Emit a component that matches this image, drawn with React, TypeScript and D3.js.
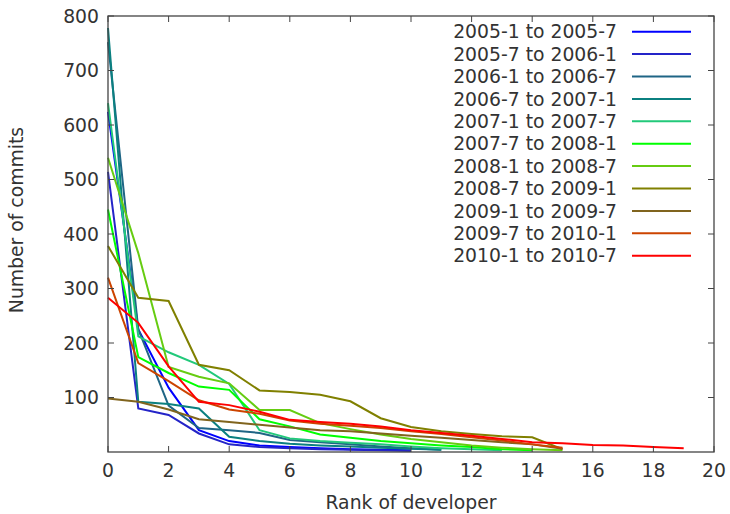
import React from "react";
import * as d3 from "d3";

const seriesNames = [
  "2005-1 to 2005-7",
  "2005-7 to 2006-1",
  "2006-1 to 2006-7",
  "2006-7 to 2007-1",
  "2007-1 to 2007-7",
  "2007-7 to 2008-1",
  "2008-1 to 2008-7",
  "2008-7 to 2009-1",
  "2009-1 to 2009-7",
  "2009-7 to 2010-1",
  "2010-1 to 2010-7",
];

const s2005a = [624, 225, 118, 40, 20, 12, 9, 7, 5, 4, 3];
const s2005b = [514, 80, 68, 34, 14, 9, 7, 5, 4, 3, 2];
const s2006a = [752, 225, 85, 44, 40, 35, 22, 18, 14, 10, 7, 4];
const s2006b = [778, 92, 88, 80, 28, 20, 15, 12, 10, 8, 6, 4];
const s2007a = [640, 212, 183, 160, 125, 40, 25, 20, 17, 14, 10, 7, 5, 3];
const s2007b = [445, 174, 145, 120, 114, 60, 47, 32, 26, 20, 16, 12, 9, 5, 3];
const s2008a = [540, 365, 156, 138, 126, 77, 77, 53, 42, 32, 24, 18, 12, 8, 5, 3];
const s2008b = [378, 283, 277, 160, 150, 113, 110, 105, 93, 62, 46, 38, 33, 29, 27, 5];
const s2009a = [98, 92, 78, 60, 55, 50, 45, 40, 38, 34, 30, 26, 22, 18, 14, 6];
const s2009b = [320, 163, 130, 95, 78, 70, 58, 52, 48, 44, 38, 33, 27, 21, 14, 8];
const s2010a = [283, 237, 157, 92, 86, 74, 59, 55, 52, 47, 40, 35, 30, 24, 18, 16, 13, 12, 9, 7];

const seriesValues = [s2005a, s2005b, s2006a, s2006b, s2007a, s2007b, s2008a, s2008b, s2009a, s2009b, s2010a];

const seriesColors = [
  "#0000ff",
  "#2424c8",
  "#1f6585",
  "#0b8080",
  "#22c97a",
  "#00ff00",
  "#66cc11",
  "#808000",
  "#80641e",
  "#cc4400",
  "#ff0000",
];

const xTicks = [0, 2, 4, 6, 8, 10, 12, 14, 16, 18, 20];
const yTicks = [100, 200, 300, 400, 500, 600, 700, 800];

const W = 730;
const H = 514;
const M = { left: 108, right: 714, top: 16, bottom: 452 };
const FONT = "'DejaVu Sans', sans-serif";
const FS = 18.8;
const TXT = "#333333";
const FRAME = "#444444";
const TICK = 6;

export default function App() {
  const x = d3.scaleLinear().domain([0, 20]).range([M.left, M.right]);
  const y = d3.scaleLinear().domain([0, 800]).range([M.bottom, M.top]);
  const line = d3
    .line<number>()
    .x((_, i) => x(i))
    .y((d) => y(d));

  const legendTextRight = 617;
  const legendLineX1 = 632;
  const legendLineX2 = 691;
  const legendY0 = 31.7;
  const legendStep = 22.4;

  return (
    <svg
      width={W}
      height={H}
      style={{ position: "absolute", left: 0, top: 0, background: "#fff" }}
      fontFamily={FONT}
    >
      <rect x={0} y={0} width={W} height={H} fill="#fff" />
      {seriesValues.map((vals, i) => (
        <path
          key={i}
          d={line(vals) || ""}
          fill="none"
          stroke={seriesColors[i]}
          strokeWidth={2}
          strokeLinejoin="miter"
        />
      ))}
      <rect
        x={M.left}
        y={M.top}
        width={M.right - M.left}
        height={M.bottom - M.top}
        fill="none"
        stroke={FRAME}
        strokeWidth={1.3}
      />
      {xTicks.map((t) => (
        <g key={"xt" + t}>
          <line x1={x(t)} x2={x(t)} y1={M.bottom} y2={M.bottom - TICK} stroke={FRAME} strokeWidth={1} />
          <line x1={x(t)} x2={x(t)} y1={M.top} y2={M.top + TICK} stroke={FRAME} strokeWidth={1} />
          <text x={x(t)} y={477} textAnchor="middle" fontSize={FS} fill={TXT}>
            {t}
          </text>
        </g>
      ))}
      {yTicks.map((t) => (
        <g key={"yt" + t}>
          <line x1={M.left} x2={M.left + TICK} y1={y(t)} y2={y(t)} stroke={FRAME} strokeWidth={1} />
          <line x1={M.right} x2={M.right - TICK} y1={y(t)} y2={y(t)} stroke={FRAME} strokeWidth={1} />
          <text x={99} y={y(t)} dy="0.36em" textAnchor="end" fontSize={FS} fill={TXT}>
            {t}
          </text>
        </g>
      ))}
      <text x={(M.left + M.right) / 2} y={509} textAnchor="middle" fontSize={FS} fill={TXT}>
        Rank of developer
      </text>
      <text
        transform={`translate(23,220) rotate(-90)`}
        textAnchor="middle"
        fontSize={FS}
        fill={TXT}
      >
        Number of commits
      </text>
      {seriesNames.map((name, i) => {
        const ly = legendY0 + i * legendStep;
        return (
          <g key={"lg" + i}>
            <text x={legendTextRight} y={ly} dy="0.36em" textAnchor="end" fontSize={FS} fill={TXT}>
              {name}
            </text>
            <line x1={legendLineX1} x2={legendLineX2} y1={ly} y2={ly} stroke={seriesColors[i]} strokeWidth={2} />
          </g>
        );
      })}
    </svg>
  );
}
